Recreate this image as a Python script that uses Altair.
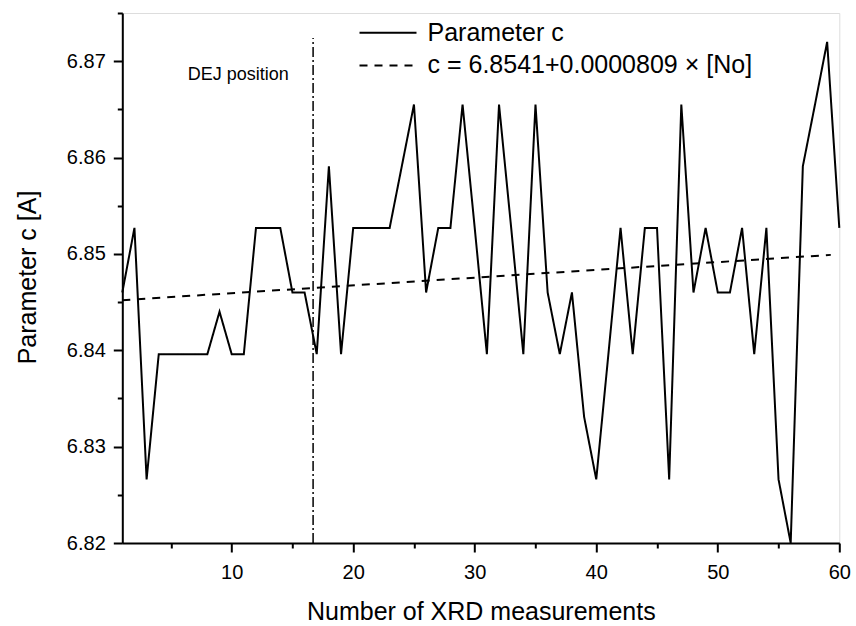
import altair as alt
import pandas as pd

# ---- data ----
n_values = list(range(1, 61))
c_values = [
    6.8460, 6.8527, 6.8266, 6.8396, 6.8396, 6.8396, 6.8396, 6.8396, 6.8440, 6.8396,
    6.8396, 6.8527, 6.8527, 6.8527, 6.8460, 6.8460, 6.8396, 6.8591, 6.8396, 6.8527,
    6.8527, 6.8527, 6.8527, 6.8591, 6.8655, 6.8460, 6.8527, 6.8527, 6.8655, 6.8527,
    6.8396, 6.8655, 6.8527, 6.8396, 6.8655, 6.8460, 6.8396, 6.8460, 6.8331, 6.8266,
    6.8396, 6.8527, 6.8396, 6.8527, 6.8527, 6.8266, 6.8655, 6.8460, 6.8527, 6.8460,
    6.8460, 6.8527, 6.8396, 6.8527, 6.8266, 6.8200, 6.8591, 6.8655, 6.8720, 6.8527,
]
fit_x = [1, 59.3]
fit_y = [6.8452, 6.8499]
series_names = ["Parameter c", "c = 6.8541+0.0000809 × [No]"]
dej_x = [16.7]
dej_y_low = [6.82]
dej_y_high = [6.8724]
dej_label = ["DEJ position"]
dej_label_x = [10.55]
dej_label_y = [6.8686]

x_major = [10, 20, 30, 40, 50, 60]
x_minor = [5, 15, 25, 35, 45, 55]
y_major = [6.82, 6.83, 6.84, 6.85, 6.86, 6.87]
y_minor = [6.825, 6.835, 6.845, 6.855, 6.865, 6.875]

FONT = "Liberation Sans"

df_main = pd.DataFrame({"n": n_values, "c": c_values, "series": series_names[0]})
df_fit = pd.DataFrame({"n": fit_x, "c": fit_y, "series": series_names[1]})
df_lines = pd.concat([df_main, df_fit], ignore_index=True)
df_dej = pd.DataFrame({"n": dej_x, "y1": dej_y_low, "y2": dej_y_high})
df_txt = pd.DataFrame({"n": dej_label_x, "c": dej_label_y, "t": dej_label})

x_scale = alt.Scale(domain=[1, 60], nice=False, zero=False)
y_scale = alt.Scale(domain=[6.82, 6.875], nice=False, zero=False)

x_axis = alt.Axis(
    values=x_major, orient="bottom", tickSize=9, tickWidth=2, tickColor="black",
    domainWidth=2, domainColor="black", labelFontSize=20, labelColor="black",
    labelFont=FONT, labelPadding=10, labelFlush=False, labelOverlap=False, grid=False,
    title="Number of XRD measurements", titleFontSize=25, titleFont=FONT,
    titleFontWeight="normal", titleColor="black", titleX=358.5, titleY=76,
    titleBaseline="alphabetic", titleAlign="center",
)
y_axis = alt.Axis(
    values=y_major, orient="left", format=".2f", tickSize=9, tickWidth=2,
    tickColor="black", domainWidth=2, domainColor="black", labelFontSize=20,
    labelColor="black", labelFont=FONT, labelPadding=8, labelOverlap=False,
    labelFlush=False, grid=False,
    title="Parameter c [A]", titleFontSize=25, titleFont=FONT, titleFontWeight="normal",
    titleColor="black", titleX=-87, titleY=264, titleBaseline="alphabetic",
    titleAlign="center", titleAngle=270,
)
x_axis_minor = alt.Axis(
    values=x_minor, orient="bottom", tickSize=5, tickWidth=2, tickColor="black",
    domain=False, labels=False, grid=False, title=None,
)
y_axis_minor = alt.Axis(
    values=y_minor, orient="left", tickSize=5, tickWidth=2, tickColor="black",
    domain=False, labels=False, grid=False, title=None,
)

dash_scale = alt.Scale(domain=series_names, range=[[1, 0], [8, 7]])

lines = alt.Chart(df_lines).mark_line(color="black", strokeWidth=2).encode(
    x=alt.X("n:Q", scale=x_scale, axis=x_axis),
    y=alt.Y("c:Q", scale=y_scale, axis=y_axis),
    strokeDash=alt.StrokeDash(
        "series:N", scale=dash_scale, sort=series_names,
        legend=alt.Legend(
            title=None, orient="none", legendX=253.2, legendY=7.2,
            symbolType="M-3,0H3", symbolSize=361, symbolStrokeWidth=2,
            symbolStrokeColor="black", labelFontSize=25, labelFont=FONT,
            labelColor="black", labelOffset=27, rowPadding=6.7, padding=0,
            labelLimit=0,
        ),
    ),
    order="n:Q",
)

minor = alt.Chart(df_main).mark_point(opacity=0).encode(
    x=alt.X("n:Q", scale=x_scale, axis=x_axis_minor),
    y=alt.Y("c:Q", scale=y_scale, axis=y_axis_minor),
)

dej_rule = alt.Chart(df_dej).mark_rule(
    color="black", strokeWidth=1.5, strokeDash=[10, 3, 2, 3]
).encode(
    x=alt.X("n:Q", scale=x_scale, axis=None),
    y=alt.Y("y1:Q", scale=y_scale, axis=None),
    y2="y2:Q",
)

dej_text = alt.Chart(df_txt).mark_text(
    fontSize=18, font=FONT, color="black", align="center", baseline="middle"
).encode(
    x=alt.X("n:Q", scale=x_scale, axis=None),
    y=alt.Y("c:Q", scale=y_scale, axis=None),
    text="t:N",
)

chart = alt.layer(lines, minor, dej_rule, dej_text).resolve_axis(
    x="independent", y="independent"
).properties(
    width=717, height=530,
    autosize=alt.AutoSizeParams(type="none"),
    padding={"left": 122.3, "top": 13, "right": 16.7, "bottom": 83},
).configure_view(stroke=None).configure(font=FONT, background="white")

chart.save("out.html", embed_options={"renderer": "svg", "actions": False})
